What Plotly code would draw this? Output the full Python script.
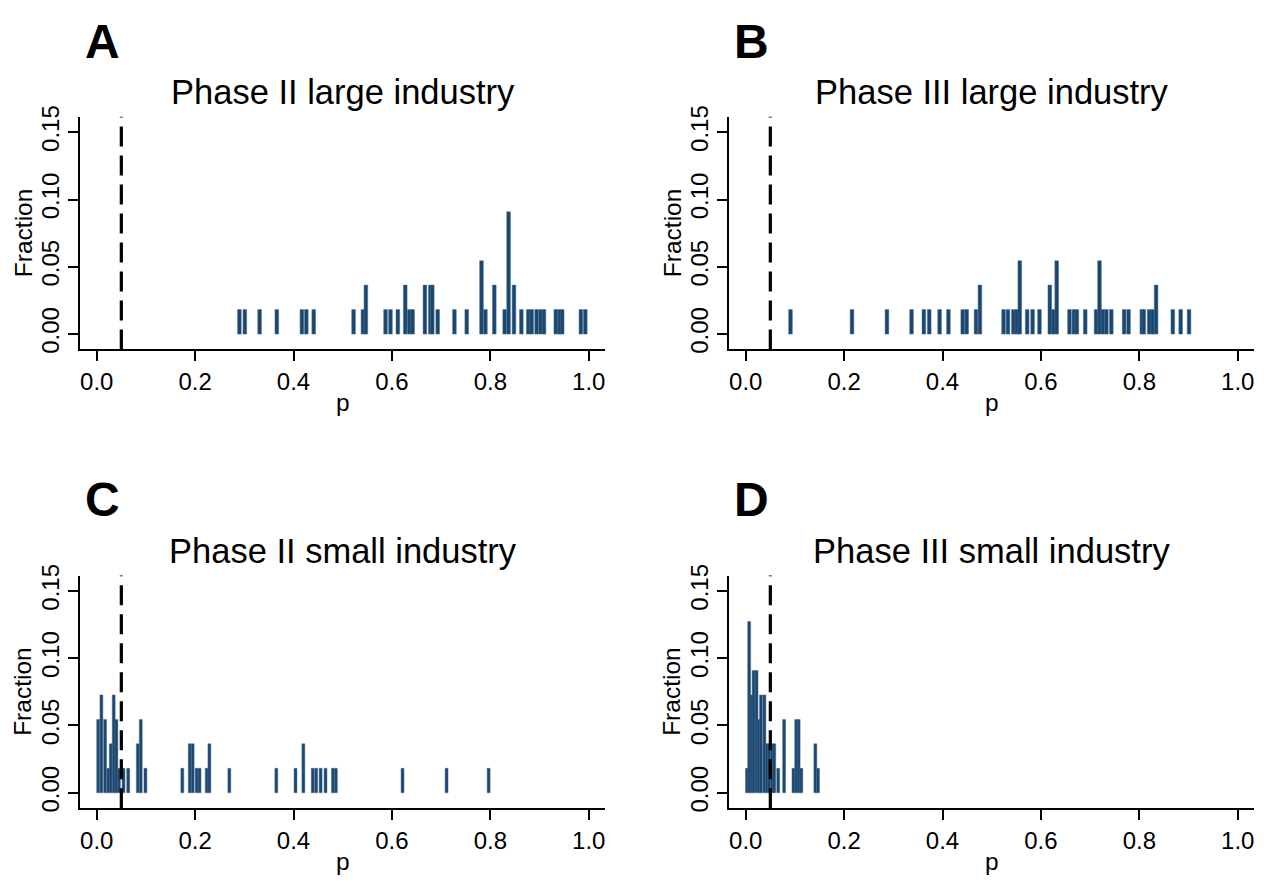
import plotly.graph_objects as go

# ---------------- data ----------------
a_p = [0.290, 0.301, 0.331, 0.366, 0.417, 0.426, 0.441, 0.522, 0.541, 0.547,
       0.587, 0.597, 0.612, 0.627, 0.635, 0.642, 0.667, 0.678, 0.682, 0.693,
       0.727, 0.752, 0.782, 0.790, 0.808, 0.829, 0.837, 0.848, 0.863, 0.877,
       0.884, 0.894, 0.902, 0.909, 0.933, 0.940, 0.946, 0.984, 0.993]
a_frac = [0.0182, 0.0182, 0.0182, 0.0182, 0.0182, 0.0182, 0.0182, 0.0182, 0.0182, 0.0364,
          0.0182, 0.0182, 0.0182, 0.0364, 0.0182, 0.0182, 0.0364, 0.0364, 0.0364, 0.0182,
          0.0182, 0.0182, 0.0545, 0.0182, 0.0364, 0.0182, 0.0909, 0.0364, 0.0182, 0.0182,
          0.0182, 0.0182, 0.0182, 0.0182, 0.0182, 0.0182, 0.0182, 0.0182, 0.0182]

b_p = [0.091, 0.216, 0.287, 0.337, 0.362, 0.373, 0.394, 0.412, 0.441, 0.449,
       0.468, 0.476, 0.524, 0.533, 0.544, 0.551, 0.557, 0.572, 0.583, 0.597,
       0.618, 0.625, 0.632, 0.658, 0.667, 0.673, 0.690, 0.712, 0.719, 0.726,
       0.733, 0.743, 0.769, 0.778, 0.805, 0.809, 0.820, 0.827, 0.834, 0.868,
       0.884, 0.901]
b_frac = [0.0182, 0.0182, 0.0182, 0.0182, 0.0182, 0.0182, 0.0182, 0.0182, 0.0182, 0.0182,
          0.0182, 0.0364, 0.0182, 0.0182, 0.0182, 0.0182, 0.0545, 0.0182, 0.0182, 0.0182,
          0.0364, 0.0182, 0.0545, 0.0182, 0.0182, 0.0182, 0.0182, 0.0182, 0.0545, 0.0182,
          0.0182, 0.0182, 0.0182, 0.0182, 0.0182, 0.0182, 0.0182, 0.0182, 0.0364, 0.0182,
          0.0182, 0.0182]

c_p = [0.003, 0.0095, 0.017, 0.0235, 0.0285, 0.0345, 0.040, 0.045, 0.0545, 0.064,
       0.0835, 0.0895, 0.099, 0.174, 0.189, 0.195, 0.203, 0.209, 0.2235, 0.229,
       0.2695, 0.365, 0.404, 0.420, 0.439, 0.446, 0.455, 0.465, 0.480, 0.486,
       0.6215, 0.711, 0.7965]
c_frac = [0.0545, 0.0727, 0.0545, 0.0182, 0.0364, 0.0727, 0.0545, 0.0182, 0.0182, 0.0182,
          0.0364, 0.0545, 0.0182, 0.0182, 0.0364, 0.0364, 0.0182, 0.0182, 0.0182, 0.0364,
          0.0182, 0.0182, 0.0182, 0.0364, 0.0182, 0.0182, 0.0182, 0.0182, 0.0182, 0.0182,
          0.0182, 0.0182, 0.0182]

d_p = [0.0025, 0.007, 0.0117, 0.016, 0.022, 0.0265, 0.031, 0.038, 0.0435, 0.0475,
       0.053, 0.058, 0.066, 0.078, 0.097, 0.1025, 0.1075, 0.113, 0.1415, 0.147]
d_frac = [0.0182, 0.1273, 0.0727, 0.0909, 0.0909, 0.0545, 0.0727, 0.0727, 0.0364, 0.0364,
          0.0364, 0.0364, 0.0182, 0.0545, 0.0182, 0.0545, 0.0545, 0.0182, 0.0364, 0.0182]

panel_letters = ["A", "B", "C", "D"]
panel_titles = ["Phase II large industry", "Phase III large industry",
                "Phase II small industry", "Phase III small industry"]
x_ticks = [0.0, 0.2, 0.4, 0.6, 0.8, 1.0]
y_ticks = [0.00, 0.05, 0.10, 0.15]
threshold = 0.05

# ---------------- layout helpers ----------------
W, H = 1268, 884
FONT = "Liberation Sans, Arial, sans-serif"
NAVY = "rgb(26,71,111)"

xdoms_px = [(80, 605), (729, 1254)]
ydoms_px = [(107.7, 344.3), (574.3, 810.9)]


def px_x(v):
    return v / W


def px_y(v):
    return 1 - v / H


series = [(a_p, a_frac, 0.0075), (b_p, b_frac, 0.0075),
          (c_p, c_frac, 0.0060), (d_p, d_frac, 0.0060)]

fig = go.Figure()
layout = dict(
    width=W, height=H,
    margin=dict(l=0, r=0, t=0, b=0),
    paper_bgcolor="white", plot_bgcolor="white",
    showlegend=False,
    font=dict(family=FONT, color="black"),
    annotations=[], shapes=[],
)

for i, (xs, ys, bw) in enumerate(series):
    n = "" if i == 0 else str(i + 1)
    col, row = i % 2, i // 2
    xd = xdoms_px[col]
    yd = ydoms_px[row]
    fig.add_trace(go.Bar(
        x=xs, y=ys, width=bw,
        marker=dict(color=NAVY, line=dict(color="rgb(80,112,145)", width=0.5)),
        xaxis="x" + n, yaxis="y" + n,
    ))
    layout["xaxis" + n] = dict(
        domain=[px_x(xd[0]), px_x(xd[1])], anchor="y" + n,
        range=[-0.034, 1.033], tickvals=x_ticks, tickformat=".1f",
        ticks="outside", ticklen=10, tickwidth=1.8, tickcolor="black",
        showline=True, linecolor="black", linewidth=1.8,
        showgrid=False, zeroline=False,
        tickfont=dict(family=FONT, size=24, color="black"),
    )
    layout["yaxis" + n] = dict(
        domain=[px_y(yd[1]), px_y(yd[0])], anchor="x" + n,
        range=[-0.0114, 0.1614], tickvals=y_ticks, tickformat=".2f",
        ticks="outside", ticklen=10, tickwidth=1.8, tickcolor="black",
        showline=True, linecolor="black", linewidth=1.8,
        showgrid=False, zeroline=False, tickangle=-90,
        tickfont=dict(family=FONT, size=24, color="black"),
    )
    # threshold line at p = 0.05
    layout["shapes"].append(dict(
        type="line", xref="x" + n, yref="y" + n + " domain",
        x0=threshold, x1=threshold, y0=0, y1=1,
        line=dict(color="black", width=3.2, dash="20px,9px"),
    ))
    cx = (xd[0] + xd[1]) / 2
    layout["annotations"].append(dict(
        text=panel_titles[i], xref="paper", yref="paper",
        x=px_x(cx), y=px_y(yd[0] - 25), xanchor="center", yanchor="middle",
        showarrow=False, font=dict(family=FONT, size=34.5, color="black"),
    ))
    layout["annotations"].append(dict(
        text="<b>" + panel_letters[i] + "</b>", xref="paper", yref="paper",
        x=px_x(xd[0] + 3), y=px_y(yd[0] - 77), xanchor="left", yanchor="middle",
        showarrow=False, font=dict(family=FONT, size=48, color="black"),
    ))
    layout["annotations"].append(dict(
        text="p", xref="paper", yref="paper",
        x=px_x(cx), y=px_y(yd[1] + 54), xanchor="center", yanchor="middle",
        showarrow=False, font=dict(family=FONT, size=24.5, color="black"),
    ))
    layout["annotations"].append(dict(
        text="Fraction", xref="paper", yref="paper",
        x=px_x(xd[0] - 57), y=px_y((yd[0] + yd[1]) / 2), xanchor="center", yanchor="middle",
        textangle=-90, showarrow=False, font=dict(family=FONT, size=24.5, color="black"),
    ))

fig.update_layout(**layout)

page_fix = (
    "var h=document.documentElement.style;h.margin='0';h.padding='0';"
    "h.overflow='hidden';h.height='884px';"
    "var b=document.body.style;b.margin='0';b.padding='0';"
    "b.overflow='hidden';b.height='884px';"
    "var g=document.getElementById('{plot_id}');"
    "g.style.position='fixed';g.style.top='0px';g.style.left='0px';"
)
fig.write_html("out.html", config={"displayModeBar": False}, post_script=page_fix)
